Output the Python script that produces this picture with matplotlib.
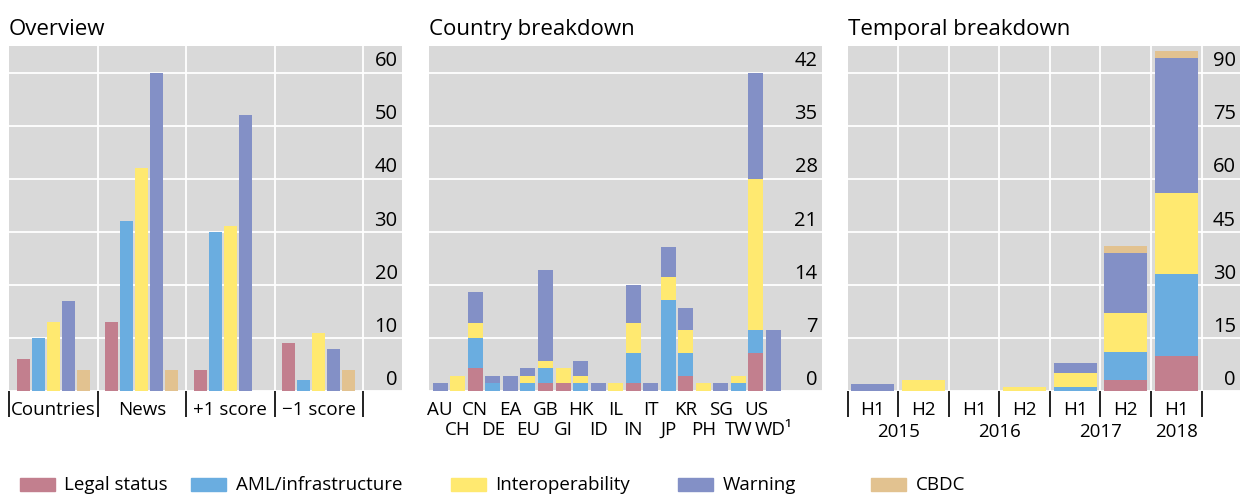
import matplotlib
matplotlib.use("Agg")
import matplotlib.pyplot as plt
from matplotlib.patches import Rectangle
import numpy as np

plt.rcParams['font.family'] = ['Open Sans', 'DejaVu Sans']

# ---------------- data ----------------
series = ["Legal status", "AML/infrastructure", "Interoperability", "Warning", "CBDC"]
colors = ["#C27F8E", "#6AADE0", "#FFE970", "#8390C6", "#E2C290"]

overview_groups = ["Countries", "News", "+1 score", "\u22121 score"]
ov_legal = [6, 13, 4, 9]
ov_aml = [10, 32, 30, 2]
ov_interop = [13, 42, 31, 11]
ov_warning = [17, 60, 52, 8]
ov_cbdc = [4, 4, 0, 4]
ov_ticks = [0, 10, 20, 30, 40, 50, 60]

countries = ["AU", "CH", "CN", "DE", "EA", "EU", "GB", "GI", "HK", "ID",
             "IL", "IN", "IT", "JP", "KR", "PH", "SG", "TW", "US", "WD\u00b9"]
c_legal = [0, 0, 3, 0, 0, 0, 1, 1, 0, 0, 0, 1, 0, 0, 2, 0, 0, 0, 5, 0]
c_aml = [0, 0, 4, 1, 0, 1, 2, 0, 1, 0, 0, 4, 0, 12, 3, 0, 0, 1, 3, 0]
c_interop = [0, 2, 2, 0, 0, 1, 1, 2, 1, 0, 1, 4, 0, 3, 3, 1, 0, 1, 20, 0]
c_warning = [1, 0, 4, 1, 2, 1, 12, 0, 2, 1, 0, 5, 1, 4, 3, 0, 1, 0, 14, 8]
c_ticks = [0, 7, 14, 21, 28, 35, 42]

periods = ["H1", "H2", "H1", "H2", "H1", "H2", "H1"]
years = ["2015", "2016", "2017", "2018"]
periods_per_year = [2, 2, 2, 1]
t_legal = [0, 0, 0, 0, 0, 3, 10]
t_aml = [0, 0, 0, 0, 1, 8, 23]
t_interop = [0, 3, 0, 1, 4, 11, 23]
t_warning = [2, 0, 0, 0, 3, 17, 38]
t_cbdc = [0, 0, 0, 0, 0, 2, 2]
t_ticks = [0, 15, 30, 45, 60, 75, 90]

# ---------------- layout ----------------
W, H = 1240, 496
fig = plt.figure(figsize=(W / 100, H / 100), dpi=100)
BG = "#D9D9D9"
TXT = "#000000"
FS_TICK = 14.5
FS_CAT = 13.5
FS_TITLE = 16


def px_axes(l, r, t, b):
    return fig.add_axes([l / W, 1 - b / H, (r - l) / W, (b - t) / H])


def style(ax, ticks, title):
    ax.set_facecolor(BG)
    for s in ax.spines.values():
        s.set_visible(False)
    top = ticks[-1] * 65 / 60
    ax.set_ylim(0, top)
    ax.set_yticks([])
    for t in ticks:
        ax.axhline(t, color="white", lw=1.3, zorder=1)
        ax.annotate(str(t), xy=(1, t), xycoords=("axes fraction", "data"),
                    xytext=(-3, 4.5), textcoords="offset points",
                    ha="right", va="baseline", fontsize=FS_TICK, color=TXT,
                    zorder=5)
    ax.set_title(title, loc="left", x=0, pad=8, fontsize=FS_TITLE, color=TXT)
    ax.tick_params(axis="x", which="both", labelcolor=TXT)


# ---- Panel 1: overview ----
ax1 = px_axes(9, 401.7, 46, 391)
ngroups = len(overview_groups)
ax1.set_xlim(0, ngroups + 0.437)
style(ax1, ov_ticks, "Overview")
for b in range(1, ngroups + 1):
    ax1.axvline(b, color="white", lw=1.3, zorder=1)
ov_data = [ov_legal, ov_aml, ov_interop, ov_warning, ov_cbdc]
centers = np.arange(ngroups) + 0.5
step, width = 0.169, 0.147
for k, (vals, col) in enumerate(zip(ov_data, colors)):
    ax1.bar(centers + (k - 2) * step, vals, width=width, color=col, zorder=2)
ax1.set_xticks(np.arange(ngroups + 1))
ax1.set_xticklabels([])
ax1.tick_params(axis="x", which="major", direction="out", length=19, width=1.3,
                color="#111111")
ax1.set_xticks(centers, minor=True)
ax1.set_xticklabels(overview_groups, minor=True, fontsize=FS_CAT)
ax1.tick_params(axis="x", which="minor", length=0, pad=7)

# ---- Panel 2: country breakdown ----
ax2 = px_axes(429, 821.7, 46, 391)
n = len(countries)
ax2.set_xlim(-0.645, n - 1 + 2.75)
style(ax2, c_ticks, "Country breakdown")
x2 = np.arange(n)
bottom = np.zeros(n)
for vals, col in zip([c_legal, c_aml, c_interop, c_warning], colors[:4]):
    ax2.bar(x2, vals, bottom=bottom, width=0.855, color=col, zorder=2)
    bottom += np.array(vals)
ax2.set_xticks(x2[::2])
ax2.set_xticklabels(countries[::2], fontsize=FS_CAT)
ax2.set_xticks(x2[1::2], minor=True)
ax2.set_xticklabels(countries[1::2], minor=True, fontsize=FS_CAT)
ax2.tick_params(axis="x", which="major", length=0, pad=7)
ax2.tick_params(axis="x", which="minor", length=0, pad=21.5)

# ---- Panel 3: temporal breakdown ----
ax3 = px_axes(847.5, 1240, 46, 391)
npd = len(periods)
ax3.set_xlim(0, npd + 0.757)
style(ax3, t_ticks, "Temporal breakdown")
for b in range(1, npd + 1):
    ax3.axvline(b, color="white", lw=1.3, zorder=1)
x3 = np.arange(npd) + 0.5
bottom = np.zeros(npd)
for vals, col in zip([t_legal, t_aml, t_interop, t_warning, t_cbdc], colors):
    ax3.bar(x3, vals, bottom=bottom, width=0.85, color=col, zorder=2)
    bottom += np.array(vals)
ax3.set_xticks(np.arange(npd + 1))
ax3.set_xticklabels([])
ax3.tick_params(axis="x", which="major", direction="out", length=19, width=1.3,
                color="#111111")
ax3.set_xticks(x3, minor=True)
ax3.set_xticklabels(periods, minor=True, fontsize=FS_CAT)
ax3.tick_params(axis="x", which="minor", length=0, pad=7)
start = 0
for yr, cnt in zip(years, periods_per_year):
    ax3.annotate(yr, xy=(start + cnt / 2, 0), xycoords=("data", "axes fraction"),
                 xytext=(0, -23), textcoords="offset points",
                 ha="center", va="top", fontsize=FS_CAT, color=TXT)
    start += cnt

# ---- Legend ----
leg_x = [20, 191, 450.5, 678, 871]
for x0, lab, col in zip(leg_x, series, colors):
    fig.add_artist(Rectangle((x0 / W, 1 - 491.3 / H), 35 / W, 13.5 / H,
                             transform=fig.transFigure, color=col))
    fig.text((x0 + 44.5) / W, 1 - 484.8 / H, lab, ha="left", va="center",
             fontsize=FS_CAT, color=TXT)

fig.savefig("out.png", dpi=100)
